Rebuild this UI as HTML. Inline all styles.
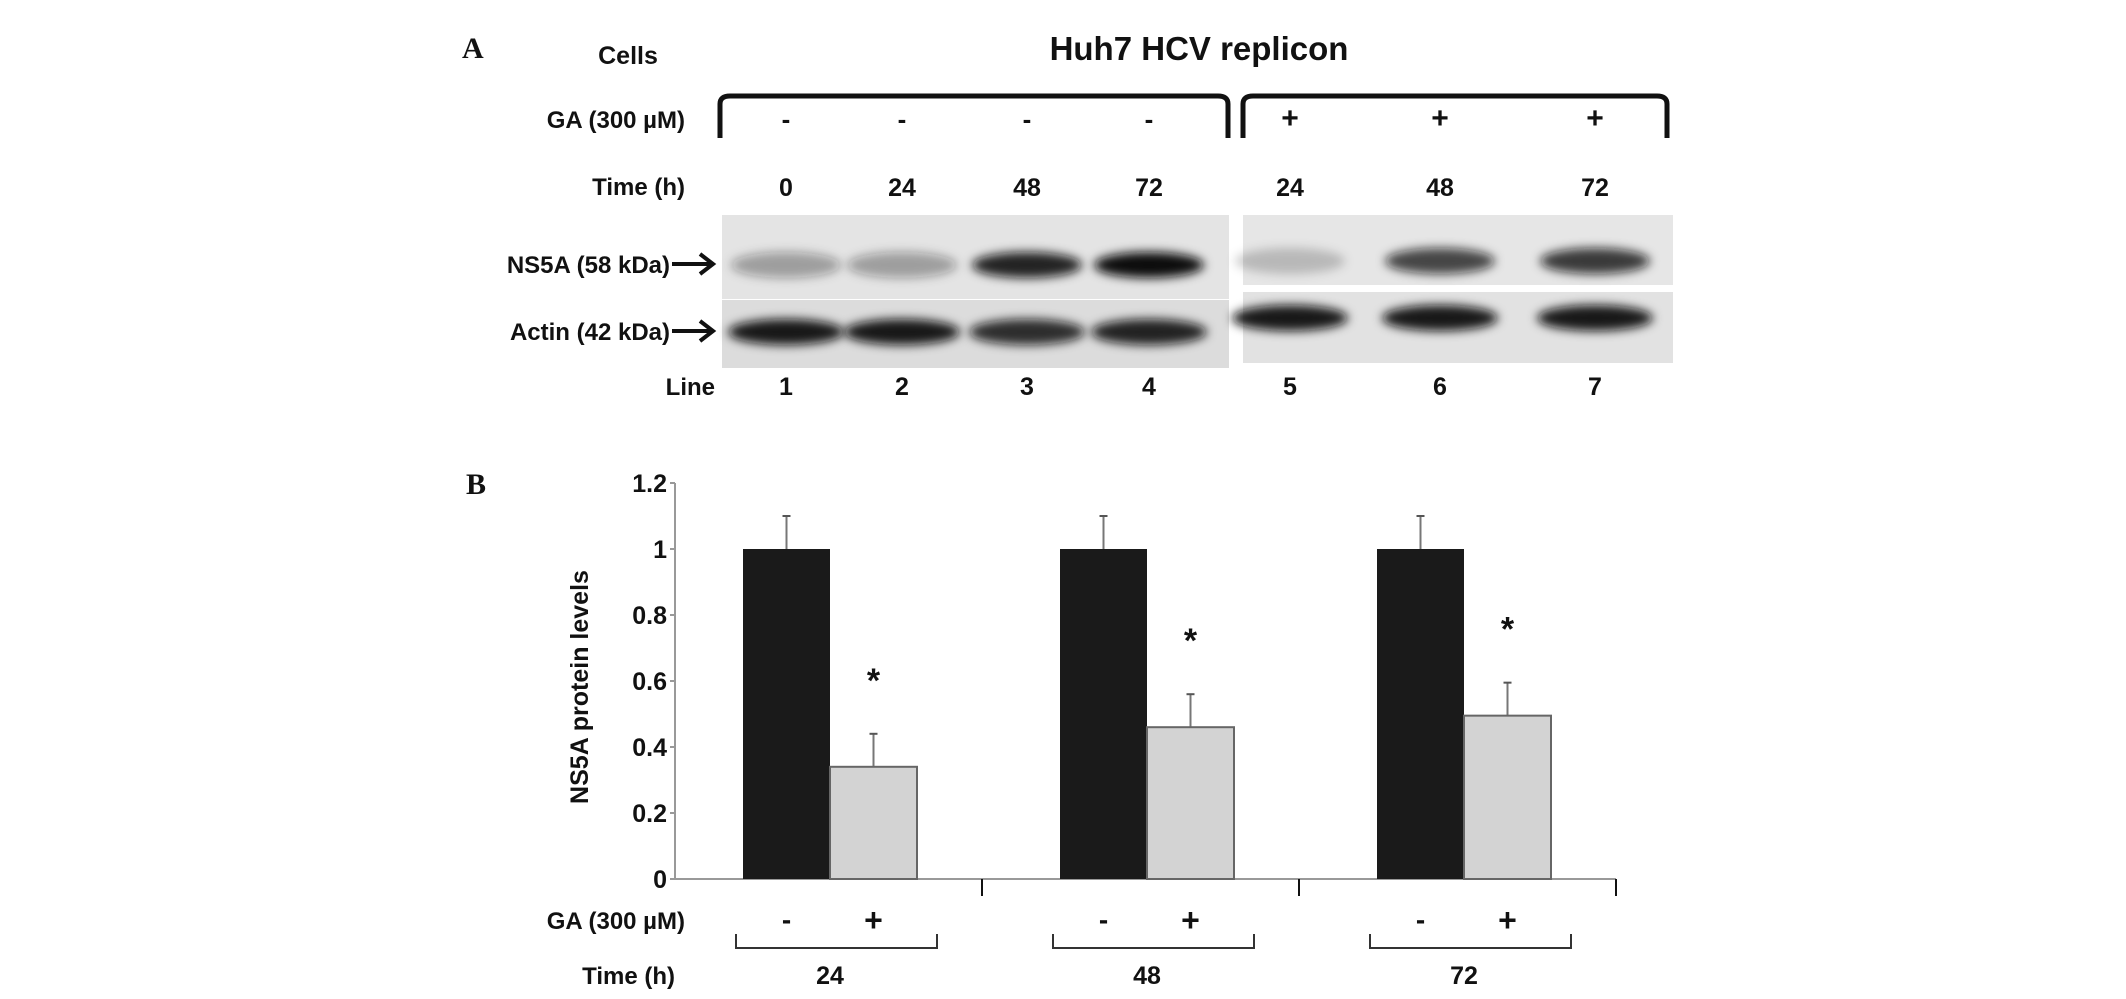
<!DOCTYPE html>
<html><head><meta charset="utf-8"><style>
html,body{margin:0;padding:0;background:#fff;}
svg{display:block;}
text{font-family:"Liberation Sans",Arial,sans-serif;font-weight:bold;fill:#111;}
</style></head><body>
<svg id="fig" width="2126" height="999" viewBox="0 0 2126 999">
<defs>
<filter id="blur" x="-20%" y="-50%" width="140%" height="200%"><feGaussianBlur stdDeviation="5"/></filter>
</defs>
<g id="panelA">
<text x="462" y="58" style="font-family:'Liberation Serif',serif" font-size="30">A</text>
<text x="628" y="64" font-size="25" text-anchor="middle">Cells</text>
<text x="1199" y="60" font-size="33" text-anchor="middle">Huh7 HCV replicon</text>
<path d="M720,138 L720,104 Q720,96 730,96 L1218,96 Q1228,96 1228,104 L1228,138" fill="none" stroke="#111" stroke-width="5"/>
<path d="M1243,138 L1243,104 Q1243,96 1253,96 L1657,96 Q1667,96 1667,104 L1667,138" fill="none" stroke="#111" stroke-width="5"/>
<text x="685" y="128" font-size="24" text-anchor="end">GA (300 µM)</text>
<text x="685" y="195" font-size="24" text-anchor="end">Time (h)</text>
<text x="670" y="273" font-size="24" text-anchor="end">NS5A (58 kDa)</text>
<text x="670" y="340" font-size="24" text-anchor="end">Actin (42 kDa)</text>
<path d="M672,264 L712,264 M700,254 L713,264 L700,274" stroke="#111" stroke-width="4" fill="none"/>
<path d="M672,331 L712,331 M700,321 L713,331 L700,341" stroke="#111" stroke-width="4" fill="none"/>
<text x="715" y="395" font-size="24" text-anchor="end">Line</text>
<rect x="722" y="215" width="507" height="84" fill="#e4e4e4"/>
<rect x="722" y="300" width="507" height="68" fill="#dcdcdc"/>
<rect x="1243" y="215" width="430" height="70" fill="#e6e6e6"/>
<rect x="1243" y="292" width="430" height="71" fill="#e2e2e2"/>
<g id="lanes"></g>
</g>
<g id="panelB">
<text x="466" y="494" style="font-family:'Liberation Serif',serif" font-size="30">B</text>
<text transform="translate(588,687) rotate(-90)" font-size="25" text-anchor="middle">NS5A protein levels</text>
<g id="chart"></g>
<text x="685" y="929" font-size="24" text-anchor="end">GA (300 µM)</text>
<text x="675" y="984" font-size="24" text-anchor="end">Time (h)</text>
</g>
</svg>
<script>
var NS="http://www.w3.org/2000/svg";
function mk(tag,attrs,parent,txt){var e=document.createElementNS(NS,tag);for(var k in attrs)e.setAttribute(k,attrs[k]);if(txt!==undefined)e.textContent=txt;parent.appendChild(e);return e;}
var laneX=[786,902,1027,1149,1290,1440,1595];
var laneGA=["-","-","-","-","+","+","+"];
var laneTime=["0","24","48","72","24","48","72"];
var laneNum=["1","2","3","4","5","6","7"];
var ns5aIntensity=[0.35,0.35,0.9,1.0,0.2,0.75,0.8];
var actinIntensity=[0.95,0.95,0.85,0.9,0.95,0.95,0.95];
var lanes=document.getElementById('lanes');
for(var i=0;i<laneX.length;i++){
  var t=mk('text',{x:laneX[i],y:128,'font-size':laneGA[i]=='+'?30:26,'text-anchor':'middle'},lanes,laneGA[i]);
  
  
  var t2=mk('text',{x:laneX[i],y:196,'font-size':25,'text-anchor':'middle'},lanes,laneTime[i]);
  
  
  var t3=mk('text',{x:laneX[i],y:395,'font-size':25,'text-anchor':'middle'},lanes,laneNum[i]);
  
  
  var b=mk('ellipse',{cx:laneX[i],cy:i<4?265:261,rx:55,ry:13,fill:'#111','fill-opacity':ns5aIntensity[i],filter:'url(#blur)'},lanes);
  
  
  var a=mk('ellipse',{cx:laneX[i],cy:i<4?332:318,rx:58,ry:13,fill:'#111','fill-opacity':actinIntensity[i],filter:'url(#blur)'},lanes);
  
  
}
var timeGroups=["24","48","72"];
var controlValues=[1.0,1.0,1.0];
var controlErrors=[0.1,0.1,0.1];
var gaValues=[0.34,0.46,0.495];
var gaErrors=[0.1,0.1,0.1];
var yTicks=[0,0.2,0.4,0.6,0.8,1.0,1.2];
var yTickLabels=["0","0.2","0.4","0.6","0.8","1","1.2"];
var x0=675,y0=879,yTop=483,yMax=1.2,groupW=317,barW=87,groupStart=675;
function yS(v){return y0-(v/yMax)*(y0-yTop);}
function gx(i){return groupStart+i*groupW;}
var c=document.getElementById('chart');
var ax=mk('line',{x1:x0,y1:yTop,x2:x0,y2:y0,stroke:'#999','stroke-width':2},c);


for(var i=0;i<yTicks.length;i++){
  var tk=mk('line',{x1:x0-5,y1:yS(yTicks[i]),x2:x0,y2:yS(yTicks[i]),stroke:'#999','stroke-width':2},c);
  
  
  var tl=mk('text',{x:x0-8,y:yS(yTicks[i])+9,'font-size':25,'text-anchor':'end'},c,yTickLabels[i]);
  
  
}
var xa=mk('line',{x1:x0,y1:y0,x2:gx(3)-10,y2:y0,stroke:'#999','stroke-width':2},c);


for(var i=0;i<timeGroups.length;i++){
  var g=gx(i);
  var sep=mk('line',{x1:g+groupW-10,y1:y0,x2:g+groupW-10,y2:y0+17,stroke:'#111','stroke-width':2},c);
  
  
  var bx=g+68;
  var hb=yS(controlValues[i]);
  var eb=mk('line',{x1:bx+barW/2,y1:hb,x2:bx+barW/2,y2:yS(controlValues[i]+controlErrors[i]),stroke:'#777','stroke-width':2},c);
  
  
  var ec=mk('line',{x1:bx+barW/2-4,y1:yS(controlValues[i]+controlErrors[i]),x2:bx+barW/2+4,y2:yS(controlValues[i]+controlErrors[i]),stroke:'#555','stroke-width':2},c);
  
  
  var r=mk('rect',{x:bx,y:hb,width:barW,height:y0-hb,fill:'#1a1a1a'},c);
  
  
  var gx2=bx+barW, hg=yS(gaValues[i]);
  var eg=mk('line',{x1:gx2+barW/2,y1:hg,x2:gx2+barW/2,y2:yS(gaValues[i]+gaErrors[i]),stroke:'#777','stroke-width':2},c);
  
  
  var egc=mk('line',{x1:gx2+barW/2-4,y1:yS(gaValues[i]+gaErrors[i]),x2:gx2+barW/2+4,y2:yS(gaValues[i]+gaErrors[i]),stroke:'#555','stroke-width':2},c);
  
  
  var r2=mk('rect',{x:gx2,y:hg,width:barW,height:y0-hg,fill:'#d3d3d3',stroke:'#666','stroke-width':2},c);
  
  
  var st=mk('text',{x:gx2+barW/2,y:yS(gaValues[i]+gaErrors[i])-42,'font-size':34,'text-anchor':'middle'},c,'*');
  
  
  var m=mk('text',{x:bx+barW/2,y:929,'font-size':28,'text-anchor':'middle'},c,'-');
  
  
  var p=mk('text',{x:gx2+barW/2,y:931,'font-size':32,'text-anchor':'middle'},c,'+');
  
  
  var br=mk('path',{d:'M'+(bx-7)+',934 L'+(bx-7)+',948 L'+(gx2+barW+20)+',948 L'+(gx2+barW+20)+',934',fill:'none',stroke:'#333','stroke-width':2},c);
  
  
  var tt=mk('text',{x:gx2,y:984,'font-size':25,'text-anchor':'middle'},c,timeGroups[i]);
  
  
}
</script>
</body></html>
